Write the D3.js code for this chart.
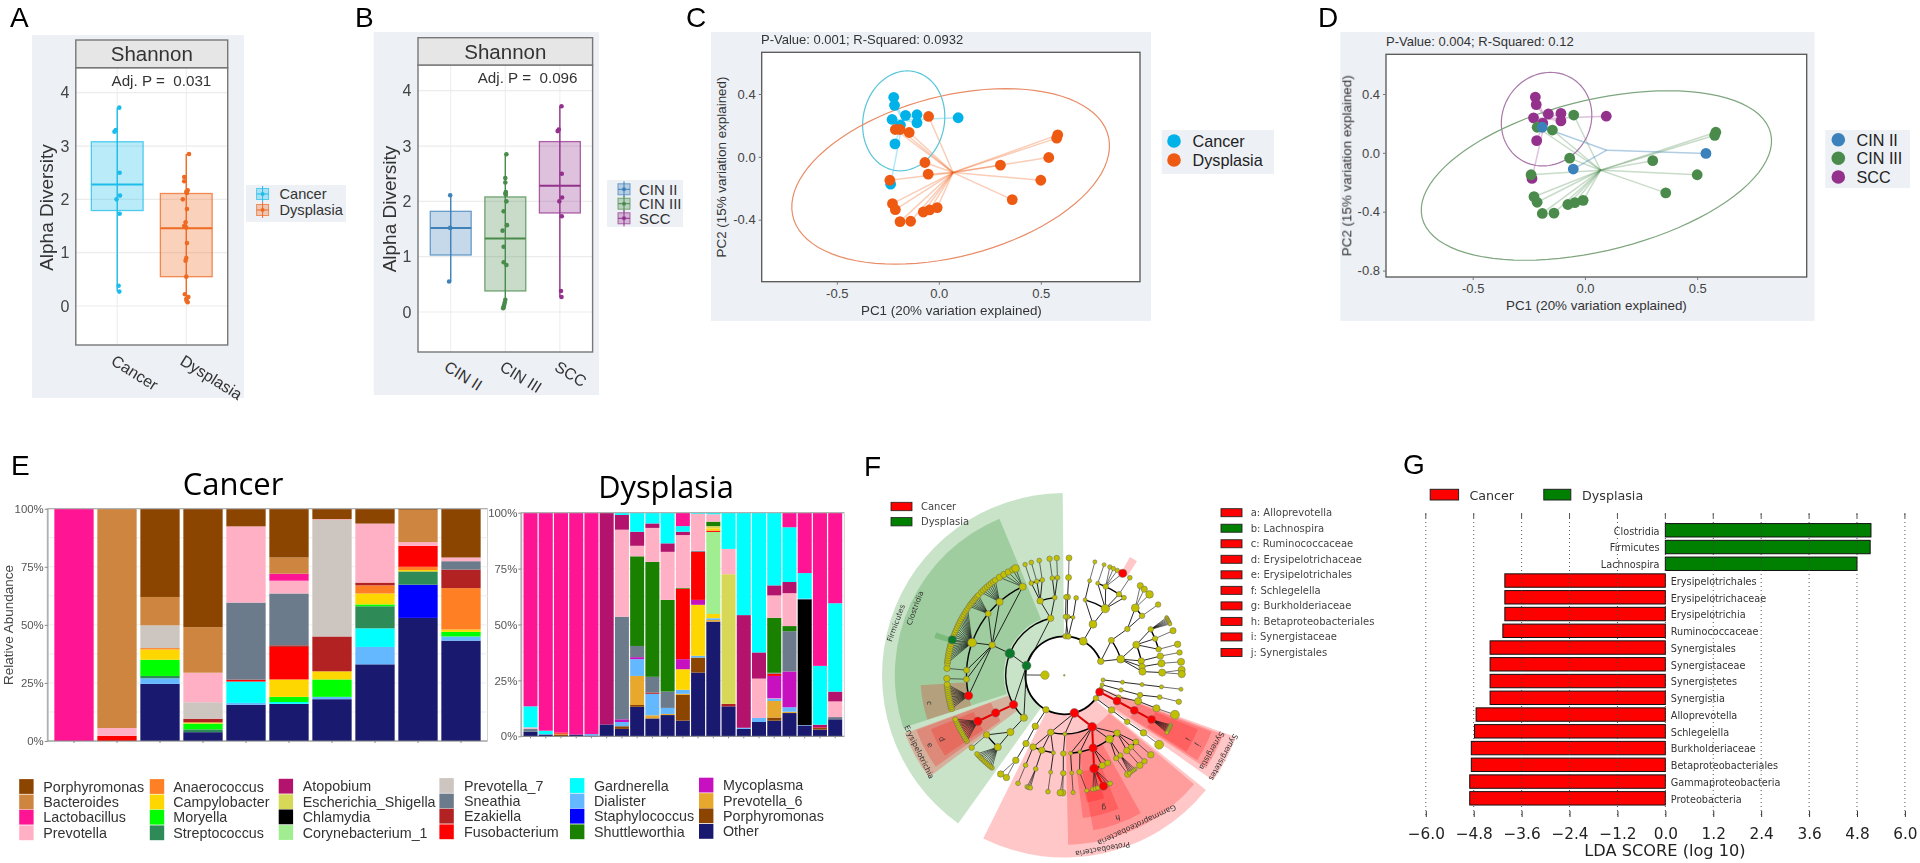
<!DOCTYPE html>
<html><head><meta charset="utf-8">
<script src="https://cdn.jsdelivr.net/npm/d3@7"></script>
<style>
html,body{margin:0;padding:0;background:#fff;overflow:hidden}
svg{display:block;filter:blur(.45px)}
text{font-family:"Liberation Sans",Arial,sans-serif}
</style></head><body>
<svg id="chart" width="1920" height="863"></svg>
<script>
// ---------- Panels A / B : alpha diversity, [value, jitter]
const cancerAlpha=[[3.72,.03],[3.3,-.02],[3.27,-.04],[2.5,.035],[2.07,.04],[2.0,-.01],[1.73,.035],[.38,.02],[.27,.03]];
const dysplasiaAlpha=[[2.85,.04],[2.42,-.03],[2.34,-.03],[2.17,.02],[2.14,0],[2.12,.01],[2.0,-.05],[1.82,.01],[1.57,-.01],[1.5,-.03],[1.47,0],[1.18,.01],[.9,0],[.85,-.01],[.55,0],[.22,-.02],[.17,.03],[.13,0],[.1,.005],[.07,.02]];
const cin2Alpha=[[2.11,-.01],[1.52,-.01],[.55,-.03]];
const cin3Alpha=[[2.85,.02],[2.42,0],[2.34,0],[2.17,.01],[2.14,0],[2.12,.01],[2.0,.02],[1.82,-.03],[1.57,.03],[1.47,-.05],[1.18,-.03],[.9,-.03],[.85,.02],[.22,0],[.17,-.01],[.13,-.02],[.1,-.03],[.07,-.04]];
const sccAlpha=cancerAlpha;
// box: [q1, median, q3, low, high]
const cancerBox=[1.79,2.28,3.08,.27,3.72];
const dysplasiaBox=[.55,1.46,2.11,.07,2.85];
const cin2Box=[1.03,1.52,1.82,.55,2.11];
const cin3Box=[.38,1.33,2.08,.07,2.85];
const sccBox=[1.79,2.28,3.08,.27,3.72];
const alphaTicks=[0,1,2,3,4];

// ---------- Panels C / D : ordination (same samples, two groupings)
const pcoaX=[-.236,-.221,-.217,-.163,-.107,-.107,-.229,-.188,.095,-.215,-.05,-.213,-.19,-.145,.583,.578,.539,.302,.5,.36,-.068,-.052,-.24,-.227,-.213,-.19,-.138,-.076,-.045,-.008];
const pcoaY=[-.174,.379,.328,.264,.268,.217,.238,.202,.249,.083,.257,.174,.174,.155,.14,.119,-.004,-.053,-.149,-.272,-.036,-.11,-.149,-.298,-.336,-.412,-.41,-.351,-.338,-.323];
const groupC=["Cancer","Cancer","Cancer","Cancer","Cancer","Cancer","Cancer","Cancer","Cancer","Cancer","Dysplasia","Dysplasia","Dysplasia","Dysplasia","Dysplasia","Dysplasia","Dysplasia","Dysplasia","Dysplasia","Dysplasia","Dysplasia","Dysplasia","Dysplasia","Dysplasia","Dysplasia","Dysplasia","Dysplasia","Dysplasia","Dysplasia","Dysplasia"];
const groupD=["SCC","SCC","SCC","SCC","SCC","SCC","SCC","SCC","SCC","SCC","CIN III","CIN III","CIN II","CIN III","CIN III","CIN III","CIN II","CIN III","CIN III","CIN III","CIN III","CIN II","CIN III","CIN III","CIN III","CIN III","CIN III","CIN III","CIN III","CIN III"];
const pcoaColors={"Cancer":"#00b2e8","Dysplasia":"#ee5a12","CIN II":"#3b82bc","CIN III":"#4a8b4c","SCC":"#93318c"};
const centroidC={"Cancer":[-.175,.234],"Dysplasia":[.07,-.1]};
const centroidD={"SCC":[-.175,.234],"CIN II":[.097,.018],"CIN III":[.07,-.118]};
// ellipse: centre x,y, conjugate vectors a, b
const ellipseC=[["#58c5da",-.172,.229,.0174,.318,.2008,0],["#e98d68",.058,-.1245,.271,.5585,.73,0]];
const ellipseD=[["#a878a8",-.171,.229,.0174,.318,.2008,0],["#7fa67f",.051,-.154,.319,.576,.712,0]];

// ---------- Panel E : taxa and stacked samples, bottom to top [taxon, percent]
const taxaNames=["Porphyromonas","Bacteroides","Lactobacillus","Prevotella","Anaerococcus","Campylobacter","Moryella","Streptococcus","Atopobium","Escherichia_Shigella","Chlamydia","Corynebacterium_1","Prevotella_7","Sneathia","Ezakiella","Fusobacterium","Gardnerella","Dialister","Staphylococcus","Shuttleworthia","Mycoplasma","Prevotella_6","Porphyromonas","Other"];
const taxaColors=["#8b4500","#cd853f","#ff1493","#ffb0c5","#ff7f24","#ffd700","#00ff00","#2e8b57","#b3136c","#d8d858","#000000","#a0ee90","#cdc5bf","#6c7b8b","#b22222","#ff0000","#00ffff","#63b8ff","#0000ff","#1a8000","#c711c1","#e8a82e","#8b4500","#191970"];
const percentTicks=[0,25,50,75,100];
const minorTicks=[12.5,37.5,62.5,87.5];
const cancerSamples=[
[[2,100]],
[[15,2.2],[3,3.4],[1,94.4]],
[[23,24.6],[17,2.4],[7,1],[6,7],[5,4.4],[4,.6],[12,9.8],[1,12.2],[0,38]],
[[23,3.8],[7,1.2],[6,2.5],[5,.5],[14,1.6],[12,7.1],[3,12.7],[1,19.6],[0,51]],
[[23,15.6],[17,.8],[16,9.2],[15,.8],[13,33.2],[3,32.8],[0,7.6]],
[[23,16],[16,.8],[6,2.2],[5,7.5],[15,14],[14,.7],[13,22.3],[3,5.5],[2,3],[1,7],[0,21]],
[[23,18],[17,1],[6,7.5],[5,3.5],[14,15],[12,50.2],[3,.3],[0,4.5]],
[[23,33],[17,7.5],[16,8],[7,9.5],[6,.8],[5,4.7],[4,3.5],[14,1.2],[3,25.4],[0,6.4]],
[[23,53],[18,14.3],[7,5.7],[5,.6],[4,1.4],[15,9],[3,1.6],[1,13.9],[0,.5]],
[[23,43.2],[17,1.8],[6,2],[5,1],[4,17.8],[14,8],[13,3.6],[3,1.6],[0,21]]];
const dysplasiaSamples=[
[[23,2],[13,1.4],[3,.6],[16,9.4],[2,86.6]],
[[23,.8],[17,.2],[16,1.5],[2,97.5]],
[[22,.8],[4,.4],[15,.5],[2,98.3]],
[[23,.8],[2,99.2]],
[[23,.3],[17,.7],[2,99]],
[[23,5.3],[8,94.7]],
[[23,3.3],[22,1.2],[17,1.9],[20,1.2],[13,45.9],[3,38.9],[8,6.6],[16,1]],
[[23,13.2],[22,.8],[21,13],[17,7.5],[20,.9],[13,5],[19,40.1],[3,4.7],[8,6.3],[16,8.5]],
[[23,8],[21,1.4],[17,9.6],[14,.6],[13,7],[19,51.4],[3,15.2],[8,2],[16,4.8]],
[[23,9.5],[21,.5],[17,2.7],[13,7.3],[19,41],[3,21.5],[8,3.8],[16,13.7]],
[[23,7],[22,11.5],[21,.5],[17,1.8],[5,9.2],[20,4.5],[15,31.5],[19,.3],[3,23.7],[8,1.5],[16,2.5],[2,6]],
[[23,28.5],[22,6.7],[17,.8],[5,22.8],[20,2.2],[15,21.5],[13,.5],[3,16.5],[16,.5]],
[[23,51.3],[21,.7],[17,.8],[5,1.9],[11,36.7],[15,.6],[5,1],[9,1],[19,2],[3,3.3],[16,.7]],
[[23,13.4],[14,1.1],[9,58],[3,11.3],[16,16.2]],
[[23,3.3],[17,.5],[8,50.4],[16,45.8]],
[[23,6.4],[17,1.8],[3,17.6],[8,11.7],[16,62.5]],
[[23,7],[22,1.4],[21,7.4],[17,1],[3,.2],[20,10],[15,1],[13,.4],[19,24.6],[3,10],[8,4.5],[16,32.5]],
[[23,10.4],[21,.6],[17,2],[20,16],[13,18],[19,2.3],[3,14.7],[8,5],[16,24.5],[2,6.5]],
[[23,4.8],[17,.2],[10,56.3],[17,.3],[16,11.4],[2,27]],
[[23,3],[22,.7],[15,.3],[8,1.2],[16,26.3],[2,68.5]],
[[23,7.6],[13,1],[3,7],[8,4.4],[16,39.5],[2,40.5]]];

// ---------- Panel F : cladogram, pre-order rows [depth, angle(s) clockwise from north, node radius, class]
const cladeRows=[
[0,0,.7],
[1,2,2.3],[2,2.9,2.3],[3,2.4,2.5],[4,2.5,2.5],[5,2.3,2.5],
[1,6,2.3],[2,1.2,2],[3,1.3,2.1],[2,8.6,1.6],[3,8.7,2],
[1,29,3.3],[2,29.3,3.3],[3,15.4,1.7],[4,15,1.7],[5,15.1,1.7],[3,31.6,3.5],[4,20,1.7],[5,19.8,1.7],[4,25,2.3],[5,[22.8,24.7,26.8],1.9],[5,29.8,3.4,"r"],[4,34,2.3],[5,33.9,2],[4,37.6,2],
[1,69,2.7],[2,53.4,2.5],[3,53.7,2.3],[4,52.6,2.3],[5,53,2.3],[4,46.5,3.3],[5,[40.3,42.9],2.6],[5,46.5,3.2],
[2,74,3.3],[3,67,3],[4,62,2.3],[5,[60.5,61.1,61.7,62.3,62.9,63.5,64.1],1.6],[4,68,2.3],[5,67.7,2.6],[4,74.6,2.3],[5,74.7,2.7],[3,79.4,2.7],[4,78.7,2.7],[5,78.8,2.3],[3,83.7,2.7],[4,83,3],[5,83.4,3],[3,87.3,3],[4,88.4,3],[5,[87.4,89.4],3],
[1,96.8,1.7],[2,96.8,1.7],[3,96.8,1.7],[4,96.8,1.7],[5,96.8,1.7],
[1,104,1.7],[2,104.5,1.8],[3,104.6,2.3],[4,102.9,2],[5,103,2.3],
[1,110,1.7],[2,111.9,2],[3,109.3,3],[4,109.7,3],[5,109.6,3.7],
[1,115.3,3.3,"r"],[2,116,3.3,"r"],[3,116.6,3.3,"r"],[4,116.9,3.3,"r"],[5,[115,115.6,116.2,116.8,117.4,118,118.6,119.2],1.6],
[1,126,2.3],[2,126.2,2.7],[3,126.5,2.3],[4,126,2.7],[5,126.2,3.7],
[1,165,3.7,"r"],[2,151.6,3.7,"r"],[3,168.5,1.7],[4,171,2.3],[5,169,1.8],[3,175.4,1.7],[4,175.6,1.7],[5,175.7,1.8],
[3,158.4,3.5,"r"],[4,162.3,3.7,"r"],[5,160.5,3.5,"r"],[5,[165.9,164.6,163.4,158.4,157],2],[4,157.2,2.7],[4,153.7,2.5],
[3,144.7,3.3],[4,148,2.2],[5,147.3,2.7],[4,145,2.2],[5,[143,143.8,144.7,145.6,146.4],1.7],
[3,137.5,2.7],[4,140.3,2.7],[5,140,2.7],[4,137,2.3],[5,137,2.3],[4,133,2.5],[5,132.6,2.7],
[2,179.4,1.7],[3,180.7,2.3],[4,180.6,2.3],[5,[180.8,182],2.7],
[2,193.4,2.7],[3,188,1.7],[4,188,1.7],[5,188,2],[3,196.7,2.7],[4,197,2],[5,[198.4,197.6,196.8],2],[3,203.5,2.7],[4,203.3,2],[5,203.2,2],
[1,208,2.7],[2,209.7,2.7],[3,209.3,2.7],[4,209.7,2.7],[5,[209.5,212.8],2.7],
[1,284.4,3.7,"g"],
[2,223.6,3],[3,223.5,3],[4,222.8,3],[5,[218,219,220,221,222,223,224,225,226,227,228],2],[4,232.5,2.7],[5,232,2.3],
[2,240,3.5,"r"],[3,241.3,3.5,"r"],[4,242,3.5,"r"],[5,[236,237,238,239,240,241,242,243,244,245,246,247,248],2.1],
[2,291.9,4,"g"],[3,292.7,2.7],
[4,258,3.5,"r"],[5,[253.5,254.5,255.5,256.5,257.5,258.5,259.5,260.5,261.5,262.5,263.5,264.5,265.5],2.5],
[4,267.7,2.5],[5,268.4,2.7],[4,273,2.5],[5,273.4,2.7],
[4,289.5,3.7],[5,[276,277.2,278.4,279.6,280.8,282,283.2,284.4,285.6,286.8],2.6],[5,287.6,3.4,"g"],[5,[289,290.2,291.4,292.6,293.8,295,296.2,297.4,298.6,299.8,301,302.2,303.4,304.6],2.2],
[4,309,2.5],[5,[306,307,308,309,310,311,312,313],2.3],
[4,318.6,3],[5,[315,316.3,317.6,318.9,320.2,321.5,322.8,324],2.4],
[4,334.8,3],[5,[326.5,329,331.5,334],2.7],[5,335.5,3.2],
[2,346.5,2.7],[3,342,2.7],[4,340.3,2],[5,340.5,1.9],[4,343.7,2],[5,343.7,2],[4,347,2],[5,347.7,2],[3,353,2],[4,353,2],[5,352.8,2.3],[4,356,2],[5,356.3,2.3]
];
const innerNode=[270.5,4.3];
const mainArc=[115,429];
// sectors: [start, end, inner level, outer level, colour]
const sectors=[[215.6,359.5,1,8.3,"g"],[252,337.5,2.1,7.65,"g"],
[233,250,2,7.65,"r"],[234.6,249.7,3,7.05,"r"],[236,248,4,6.35,"r"],[252,266,4,6.35,"r"],
[129,206.4,1,8.3,"r"],[130,178.7,2,7.65,"r"],[151,169.4,3,7.05,"r"],[157.9,172.6,4,6.35,"r"],[162,170,5,5.6,"r"],
[109.8,125.3,1,8.3,"r"],[110.4,123.3,2,7.65,"r"],[111,122.6,3,7.05,"r"],[112,122,4,6.35,"r"],
[29,32.5,5,5.9,"r"],[286,288.5,5,5.9,"g"]];
const cladeLabels=[["Firmicutes",896,623,-70],["Clostridia",915,608,-70],["Erysipelotrichia",919,752,64],["e",930,745,64],["d",941.7,739,64],["c",929,703,90],
["Proteobacteria",1102.7,849,170],["Gammaproteobacteria",1136.7,825,155],["h",1117.7,817.7,170],["g",1103.7,807.7,175],["Synergistetes",1223.3,757.3,119],["Synergistia",1211.7,750.7,120],["j",1198,745,120],["i",1187.7,739.3,120]];
const groupKeys=[["Cancer","#ff0000"],["Dysplasia","#008000"]];
const biomarkers=[["a: Alloprevotella","#ff0000"],["b: Lachnospira","#008000"],["c: Ruminococcaceae","#ff0000"],["d: Erysipelotrichaceae","#ff0000"],["e: Erysipelotrichales","#ff0000"],["f: Schlegelella","#ff0000"],["g: Burkholderiaceae","#ff0000"],["h: Betaproteobacteriales","#ff0000"],["i: Synergistaceae","#ff0000"],["j: Synergistales","#ff0000"]];

// ---------- Panel G : LDA
const ldaNames=["Clostridia","Firmicutes","Lachnospira","Erysipelotrichales","Erysipelotrichaceae","Erysipelotrichia","Ruminococcaceae","Synergistales","Synergistaceae","Synergistetes","Synergistia","Alloprevotella","Schlegelella","Burkholderiaceae","Betaproteobacteriales","Gammaproteobacteria","Proteobacteria"];
const ldaValues=[5.15,5.13,4.8,-4.02,-4.02,-4.02,-4.07,-4.39,-4.39,-4.39,-4.39,-4.74,-4.78,-4.86,-4.86,-4.9,-4.9];
const ldaTicks=[-6,-4.8,-3.6,-2.4,-1.2,0,1.2,2.4,3.6,4.8,6];

// ---------- helpers
const svg=d3.select("#chart");
const BG="#edf0f5";
function txt(g,x,y,s,o={}){
  const t=g.append("text").attr("x",x).attr("y",y).text(s)
    .attr("font-size",o.size||13).attr("fill",o.color||"#222")
    .attr("text-anchor",o.anchor||"start").attr("dominant-baseline",o.base||"central");
  if(o.family)t.style("font-family",o.family);
  if(o.rotate!==undefined)t.attr("transform",`rotate(${o.rotate},${x},${y})`);
  return t;
}
const SERIF_TITLE='"Open Sans",sans-serif';
[["A",10,27],["B",355,27],["C",686,27],["D",1318,27],["E",11,475],["F",864,476],["G",1403,474]]
  .forEach(([s,x,y])=>txt(svg,x,y,s,{size:28,color:"#000",base:"auto"}));

// ---------- box panels
function boxPanel(c){
  const g=svg.append("g");
  g.append("rect").attr("x",c.bg[0]).attr("y",c.bg[1]).attr("width",c.bg[2]-c.bg[0]).attr("height",c.bg[3]-c.bg[1]).attr("fill",BG);
  const [L,R,T,B,ST]=c.plot;
  g.append("rect").attr("x",L).attr("y",T).attr("width",R-L).attr("height",B-T).attr("fill","#fff");
  const x=d3.scalePoint().domain(c.cats).range([L,R]).padding(.6);
  const y=d3.scaleLinear().domain([0,4]).range(c.yr);
  alphaTicks.forEach(t=>g.append("line").attr("x1",L).attr("x2",R).attr("y1",y(t)).attr("y2",y(t)).attr("stroke","#ececec").attr("stroke-width",1.2));
  c.cats.forEach(k=>g.append("line").attr("x1",x(k)).attr("x2",x(k)).attr("y1",T).attr("y2",B).attr("stroke","#ececec").attr("stroke-width",1));
  const bw=x.step()*.75;
  c.cats.forEach((k,i)=>{
    const b=c.boxes[i],col=c.colors[i],cx=x(k);
    g.append("line").attr("x1",cx).attr("x2",cx).attr("y1",y(b[3])).attr("y2",y(b[4])).attr("stroke",col).attr("stroke-width",1.4);
    g.append("rect").attr("x",cx-bw/2).attr("width",bw).attr("y",y(b[2])).attr("height",y(b[0])-y(b[2])).attr("fill",col).attr("fill-opacity",.3).attr("stroke",col).attr("stroke-opacity",.75).attr("stroke-width",1.3);
    g.append("line").attr("x1",cx-bw/2).attr("x2",cx+bw/2).attr("y1",y(b[1])).attr("y2",y(b[1])).attr("stroke",col).attr("stroke-width",2);
    g.selectAll(null).data(c.pts[i]).join("circle").attr("cx",d=>cx+d[1]*x.step()).attr("cy",d=>y(d[0])).attr("r",2.3).attr("fill",col);
    txt(g,c.xl[i],c.xlY,k,{size:c.xlSize,color:"#333",rotate:32});
  });
  g.append("rect").attr("x",L).attr("y",T).attr("width",R-L).attr("height",B-T).attr("fill","none").attr("stroke","#777").attr("stroke-width",1.4);
  g.append("rect").attr("x",L).attr("y",ST).attr("width",R-L).attr("height",T-ST).attr("fill","#e6e6e6").attr("stroke","#777").attr("stroke-width",1.4);
  txt(g,(L+R)/2,(ST+T)/2,"Shannon",{size:20.5,anchor:"middle",color:"#333"});
  txt(g,c.adj[0],c.adj[1],c.adj[2],{size:15.2,color:"#333"});
  alphaTicks.forEach(t=>txt(g,L-6.5,y(t),String(t),{size:16,anchor:"end",color:"#444"}));
  txt(g,c.yl[0],c.yl[1],"Alpha Diversity",{size:19,anchor:"middle",color:"#333",rotate:-90});
  // legend
  const l=c.legend;
  g.append("rect").attr("x",l.bg[0]).attr("y",l.bg[1]).attr("width",l.bg[2]-l.bg[0]).attr("height",l.bg[3]-l.bg[1]).attr("fill",BG);
  c.cats.forEach((k,i)=>{
    const col=c.colors[i],ly=l.ys[i];
    g.append("line").attr("x1",l.x).attr("x2",l.x).attr("y1",ly-8).attr("y2",ly+8).attr("stroke",col);
    g.append("rect").attr("x",l.x-6).attr("y",ly-5.5).attr("width",12).attr("height",11).attr("fill",col).attr("fill-opacity",.3).attr("stroke",col).attr("stroke-opacity",.7);
    g.append("line").attr("x1",l.x-6).attr("x2",l.x+6).attr("y1",ly).attr("y2",ly).attr("stroke",col);
    g.append("circle").attr("cx",l.x).attr("cy",ly).attr("r",2).attr("fill",col);
    txt(g,l.tx,ly,k,{size:l.size,color:"#333"});
  });
}
boxPanel({bg:[32,35,244,398],plot:[75.8,227.7,67.7,345,40],yr:[306,92.7],cats:["Cancer","Dysplasia"],
  boxes:[cancerBox,dysplasiaBox],pts:[cancerAlpha,dysplasiaAlpha],colors:["#1cbdea","#ee6a22"],
  xl:[112.8,181.8],xlY:359,xlSize:16,adj:[111.5,80,"Adj. P =\u00a0\u00a00.031"],yl:[46.3,207.5],
  legend:{bg:[246,185,346,222],x:262.6,tx:279.5,ys:[194,210],size:14.6}});
boxPanel({bg:[373.7,32,599,395],plot:[418,592.6,65,352,37.7],yr:[312,90.7],cats:["CIN II","CIN III","SCC"],
  boxes:[cin2Box,cin3Box,sccBox],pts:[cin2Alpha,cin3Alpha,sccAlpha],colors:["#3f82b8","#4a8b4c","#93318c"],
  xl:[446,501.7,556.4],xlY:365,xlSize:16,adj:[477.7,77.3,"Adj. P =\u00a0\u00a00.096"],yl:[389.3,209],
  legend:{bg:[607,180,683,227],x:624,tx:639,ys:[189.3,203.7,218.3],size:15}});

// ---------- ordination panels
function pcoaPanel(c){
  const g=svg.append("g");
  g.append("rect").attr("x",c.bg[0]).attr("y",c.bg[1]).attr("width",c.bg[2]-c.bg[0]).attr("height",c.bg[3]-c.bg[1]).attr("fill",BG);
  const [L,R,T,B]=c.plot;
  g.append("rect").attr("x",L).attr("y",T).attr("width",R-L).attr("height",B-T).attr("fill","#fff");
  const x=d3.scaleLinear().domain([-.5,.5]).range(c.xr);
  const y=d3.scaleLinear().domain([-.4,.4]).range(c.yr);
  pcoaX.forEach((v,i)=>{
    const gr=c.group[i],ct=c.centroid[gr];
    g.append("line").attr("x1",x(v)).attr("y1",y(pcoaY[i])).attr("x2",x(ct[0])).attr("y2",y(ct[1]))
      .attr("stroke",pcoaColors[gr]).attr("stroke-opacity",gr=="CIN II"?.4:.3).attr("stroke-width",1.5);
  });
  const line=d3.line().x(d=>x(d[0])).y(d=>y(d[1]));
  c.ellipses.forEach(e=>{
    const pts=d3.range(0,361,4).map(a=>{const t=a*Math.PI/180;return [e[1]+e[3]*Math.cos(t)+e[5]*Math.sin(t),e[2]+e[4]*Math.cos(t)+e[6]*Math.sin(t)];});
    g.append("path").attr("d",line(pts)).attr("fill","none").attr("stroke",e[0]).attr("stroke-width",1.2);
  });
  g.selectAll(null).data(pcoaX).join("circle").attr("cx",d=>x(d)).attr("cy",(d,i)=>y(pcoaY[i])).attr("r",5.4).attr("fill",(d,i)=>pcoaColors[c.group[i]]);
  g.append("rect").attr("x",L).attr("y",T).attr("width",R-L).attr("height",B-T).attr("fill","none").attr("stroke","#555").attr("stroke-width",1.3);
  const ax=g.append("g").attr("transform",`translate(0,${B})`).call(d3.axisBottom(x).tickValues([-.5,0,.5]).tickFormat(d3.format(".1f")).tickSize(3).tickPadding(4));
  const ay=g.append("g").attr("transform",`translate(${L},0)`).call(d3.axisLeft(y).tickValues(c.yticks).tickFormat(d3.format(".1f")).tickSize(3).tickPadding(3));
  [ax,ay].forEach(a=>{a.select(".domain").remove();a.selectAll("text").attr("font-size",13).attr("fill","#444");a.selectAll("line").attr("stroke","#777");a.selectAll("text").text(function(){return d3.select(this).text().replace("−","-");});});
  txt(g,c.title[0],c.title[1],c.title[2],{size:13,color:"#333"});
  txt(g,c.xl[0],c.xl[1],"PC1 (20% variation explained)",{size:13.4,anchor:"middle",color:"#333"});
  txt(g,c.yl[0],c.yl[1],"PC2 (15% variation explained)",{size:13.4,anchor:"middle",color:"#333",rotate:-90});
  const l=c.legend;
  g.append("rect").attr("x",l.bg[0]).attr("y",l.bg[1]).attr("width",l.bg[2]-l.bg[0]).attr("height",l.bg[3]-l.bg[1]).attr("fill",BG);
  l.names.forEach((k,i)=>{
    g.append("circle").attr("cx",l.x).attr("cy",l.ys[i]).attr("r",6.8).attr("fill",pcoaColors[k]);
    txt(g,l.tx,l.ys[i],k,{size:16.2,color:"#222"});
  });
}
pcoaPanel({bg:[711,32,1151,321],plot:[761.7,1140,52.3,281.7],xr:[836.8,1040.8],yr:[219.7,94],yticks:[-.4,0,.4],
  group:groupC,centroid:centroidC,ellipses:ellipseC,title:[761,39,"P-Value: 0.001; R-Squared: 0.0932"],xl:[951.4,310.7],yl:[721,167],
  legend:{bg:[1161.7,130,1274,174],x:1174,tx:1192.5,ys:[141,160],names:["Cancer","Dysplasia"]}});
pcoaPanel({bg:[1340.3,32,1814.6,321],plot:[1386,1806.7,54.3,277],xr:[1472.7,1697.2],yr:[211.7,94],yticks:[-.8,-.4,0,.4],
  group:groupD,centroid:centroidD,ellipses:ellipseD,title:[1386,41,"P-Value: 0.004; R-Squared: 0.12"],xl:[1596.4,305],yl:[1347,165.7],
  legend:{bg:[1825.3,130,1910,188],x:1838.3,tx:1856.5,ys:[139.7,158.3,177],names:["CIN II","CIN III","SCC"]}});

// ---------- stacked bars
function stackPanel(c){
  const g=svg.append("g");
  const x=d3.scaleBand().domain(d3.range(c.data.length)).range(c.xr).paddingInner(c.pad).paddingOuter(c.pad/2);
  const y=d3.scaleLinear().domain([0,100]).range(c.yr);
  g.append("rect").attr("x",c.L).attr("y",y(100)).attr("width",c.R-c.L).attr("height",y(0)-y(100)).attr("fill","#fff").attr("stroke","#c8c8c8").attr("stroke-width",.8);
  minorTicks.concat(percentTicks).forEach(t=>g.append("line").attr("x1",c.L).attr("x2",c.R).attr("y1",y(t)).attr("y2",y(t)).attr("stroke","#eee"));
  c.data.forEach((s,i)=>{
    const cum=d3.cumsum(s,d=>d[1]);
    g.selectAll(null).data(s).join("rect").attr("x",x(i)).attr("width",x.bandwidth())
      .attr("y",(d,j)=>y(cum[j])).attr("height",(d,j)=>y(cum[j]-d[1])-y(cum[j])).attr("fill",d=>taxaColors[d[0]]);
  });
  g.append("line").attr("x1",c.L).attr("x2",c.L).attr("y1",y(100)).attr("y2",y(0)).attr("stroke","#b0b0b0").attr("stroke-width",1.8);
  g.append("line").attr("x1",c.L).attr("x2",c.R).attr("y1",y(100)).attr("y2",y(100)).attr("stroke","#b0b0b0").attr("stroke-width",1.2);
  g.append("line").attr("x1",c.L).attr("x2",c.R).attr("y1",y(0)).attr("y2",y(0)).attr("stroke","#888").attr("stroke-width",1);
  const ay=g.append("g").attr("transform",`translate(${c.L},0)`).call(d3.axisLeft(y).tickValues(percentTicks).tickFormat(d=>d+"%").tickSize(3).tickPadding(1));
  ay.select(".domain").remove();ay.selectAll("text").attr("font-size",11.4).attr("fill","#555");ay.selectAll("line").attr("stroke","#888");
  const ax=g.append("g").attr("transform",`translate(0,${y(0)})`).call(d3.axisBottom(x).tickSize(2).tickFormat(""));
  ax.select(".domain").remove();ax.selectAll("line").attr("stroke","#888");
}
stackPanel({data:cancerSamples,xr:[52.5,482.5],yr:[741,508.7],pad:.086,L:47.7,R:487.5});
stackPanel({data:dysplasiaSamples,xr:[522.9,842.8],yr:[736.3,512.7],pad:.08,L:521.3,R:844.3});
txt(svg,8,625,"Relative Abundance",{size:13.5,anchor:"middle",color:"#444",rotate:-90});
txt(svg,233,495,"Cancer",{size:31,anchor:"middle",color:"#000",base:"auto",family:SERIF_TITLE});
txt(svg,666,497.5,"Dysplasia",{size:30.8,anchor:"middle",color:"#000",base:"auto",family:SERIF_TITLE});

// stacked legend: columns of four
const legendCols=[[19.2,43.3,0],[149.8,173.3,0],[278.7,302.8,-.3],[439.4,464,-1],[570,594,-1],[699,723,-1.4]];
const legendRows=[786.5,802,817.2,832.8];
taxaNames.forEach((n,i)=>{
  const c=legendCols[Math.floor(i/4)],ly=legendRows[i%4]+c[2];
  svg.append("rect").attr("x",c[0]).attr("y",ly-7.4).attr("width",14.4).attr("height",14.8).attr("fill",taxaColors[i]);
  txt(svg,c[1],ly,n,{size:14.3,color:"#333"});
});

// ---------- cladogram
(function(){
  const g=svg.append("g");
  const cx=1064.3,cy=675.3;
  const rad=d3.scaleLinear().domain([1,5]).range([39,117.5]);
  const toRad=d3.scaleLinear().domain([0,360]).range([0,2*Math.PI]);
  const hue={g:"#0a800a",r:"#ff0000"};
  const arc=d3.arc();
  sectors.forEach(s=>g.append("path").attr("transform",`translate(${cx},${cy})`)
    .attr("d",arc({startAngle:toRad(s[0]),endAngle:toRad(s[1]),innerRadius:rad(s[2]),outerRadius:rad(s[3])}))
    .attr("fill",hue[s[4]]).attr("fill-opacity",.22));
  // rows to nested table
  const root={children:[]};const stack=[];
  cladeRows.forEach(r=>{
    [].concat(r[1]).forEach(a=>{
      const n={angle:a,size:r[2],cls:r[3],children:[]};
      if(r[0]===0){Object.assign(root,n);stack[0]=root;}
      else{stack[r[0]-1].children.push(n);stack[r[0]]=n;}
    });
  });
  const h=d3.hierarchy(root);
  const px=d=>d.depth?cx+rad(d.depth)*Math.sin(toRad(d.data.angle)):cx;
  const py=d=>d.depth?cy-rad(d.depth)*Math.cos(toRad(d.data.angle)):cy;
  const lk=g.append("g");
  // main ring
  lk.append("path").attr("transform",`translate(${cx},${cy})`).attr("d",arc({startAngle:toRad(mainArc[0]),endAngle:toRad(mainArc[1]),innerRadius:rad(1)-.9,outerRadius:rad(1)+.9})).attr("fill","#000");
  h.links().filter(l=>l.source.depth>0).forEach(l=>{
    const both=l.target.data.cls==="r"&&l.source.data.cls==="r";
    lk.append("line").attr("x1",px(l.source)).attr("y1",py(l.source)).attr("x2",px(l.target)).attr("y2",py(l.target))
      .attr("stroke",both?"#e00000":"#111").attr("stroke-width",both?2:(l.target.depth===5?.6:.9));
  });
  // arcs joining sibling nodes of the inner levels
  h.descendants().filter(d=>d.depth>0&&d.depth<4&&d.children&&d.children.length>1).forEach(d=>{
    const e=d3.extent(d.children,c=>c.data.angle),r=rad(d.depth+1);
    lk.append("path").attr("transform",`translate(${cx},${cy})`)
      .attr("d",arc({startAngle:toRad(e[0]),endAngle:toRad(e[1]),innerRadius:r-.7,outerRadius:r+.7})).attr("fill","#000");
  });
  // innermost node
  const inner=rad(1);
  lk.append("line").attr("x1",cx+inner*Math.sin(toRad(innerNode[0]))).attr("y1",cy-inner*Math.cos(toRad(innerNode[0])))
    .attr("x2",cx+19.4*Math.sin(toRad(innerNode[0]))).attr("y2",cy-19.4*Math.cos(toRad(innerNode[0]))).attr("stroke","#333").attr("stroke-width",.9);
  const col=d=>d.data.cls==="r"?"#ff0000":d.data.cls==="g"?"#0a7a2a":"#c0c000";
  const ds=h.descendants().sort((a,b)=>d3.ascending(!!a.data.cls,!!b.data.cls));
  const nodeScale=d3.scaleLinear().domain([0,1]).range([0,1.2]);
  g.selectAll(null).data(ds).join("circle").attr("cx",px).attr("cy",py).attr("r",d=>nodeScale(d.data.size)).attr("fill",col).attr("stroke","#666").attr("stroke-width",.5);
  g.append("circle").attr("cx",cx+19.4*Math.sin(toRad(innerNode[0]))).attr("cy",cy-19.4*Math.cos(toRad(innerNode[0]))).attr("r",innerNode[1]).attr("fill","#c0c000").attr("stroke","#777").attr("stroke-width",.4);
  const DJ='"DejaVu Sans",sans-serif';
  cladeLabels.forEach(l=>txt(g,l[1],l[2],l[0],{size:7.6,anchor:"middle",color:"#333",rotate:l[3],family:DJ}));
  groupKeys.forEach((k,i)=>{
    const y=506.5+i*15.2;
    g.append("rect").attr("x",891).attr("y",y-4.2).attr("width",21).attr("height",8.4).attr("fill",k[1]).attr("stroke","#222").attr("stroke-width",.8);
    txt(g,921,y,k[0],{size:10,color:"#444",family:DJ});
  });
  biomarkers.forEach((k,i)=>{
    const y=512.7+i*15.53;
    g.append("rect").attr("x",1221).attr("y",y-4).attr("width",21).attr("height",8).attr("fill",k[1]).attr("stroke","#222").attr("stroke-width",.9);
    txt(g,1250.7,y,k[0],{size:10,color:"#444",family:DJ});
  });
})();

// ---------- LDA
(function(){
  const g=svg.append("g"),DJ='"DejaVu Sans",sans-serif';
  const x=d3.scaleLinear().domain([-6,6]).range([1425.8,1904.9]);
  const y=d3.scaleBand().domain(ldaNames).range([521.9,806.7]).paddingInner(.2).paddingOuter(.1);
  g.selectAll(null).data(ldaNames).join("rect")
    .attr("x",(d,i)=>x(Math.min(0,ldaValues[i]))).attr("y",d=>y(d)).attr("height",y.bandwidth())
    .attr("width",(d,i)=>Math.abs(x(ldaValues[i])-x(0)))
    .attr("fill",(d,i)=>ldaValues[i]>0?"#008000":"#ff0000").attr("stroke","#111").attr("stroke-width",1);
  ldaNames.forEach((n,i)=>{
    const pos=ldaValues[i]>0;
    txt(g,x(0)+(pos?-5.8:5.4),y(n)+y.bandwidth()/2+.8,n,{size:9.7,anchor:pos?"end":"start",color:"#333",family:DJ});
  });
  ldaTicks.forEach(t=>{
    g.append("line").attr("x1",x(t)).attr("x2",x(t)).attr("y1",514).attr("y2",816).attr("stroke","#444").attr("stroke-width",.9).attr("stroke-dasharray","1 3");
  });
  const ax=g.append("g").attr("transform","translate(0,817)").call(d3.axisBottom(x).tickValues(ldaTicks).tickFormat(d3.format(".1f")).tickSize(6).tickPadding(5));
  ax.select(".domain").remove();ax.selectAll("line").attr("y1",-6).attr("y2",0).attr("stroke","#333");
  ax.selectAll("text").attr("font-size",15.3).attr("fill","#222").style("font-family",DJ);
  ldaTicks.forEach(t=>g.append("line").attr("x1",x(t)).attr("x2",x(t)).attr("y1",513).attr("y2",518).attr("stroke","#555"));
  txt(g,1665,850,"LDA SCORE (log 10)",{size:16.2,anchor:"middle",color:"#222",family:DJ});
  [[1430.2,28.4,1469.4,"Cancer","#ff0000"],[1543.8,27,1582,"Dysplasia","#008000"]].forEach(k=>{
    g.append("rect").attr("x",k[0]).attr("y",489.3).attr("width",k[1]).attr("height",10.7).attr("fill",k[4]).attr("stroke","#222");
    txt(g,k[2],495,k[3],{size:12.7,color:"#333",family:DJ});
  });
})();
</script></body></html>
